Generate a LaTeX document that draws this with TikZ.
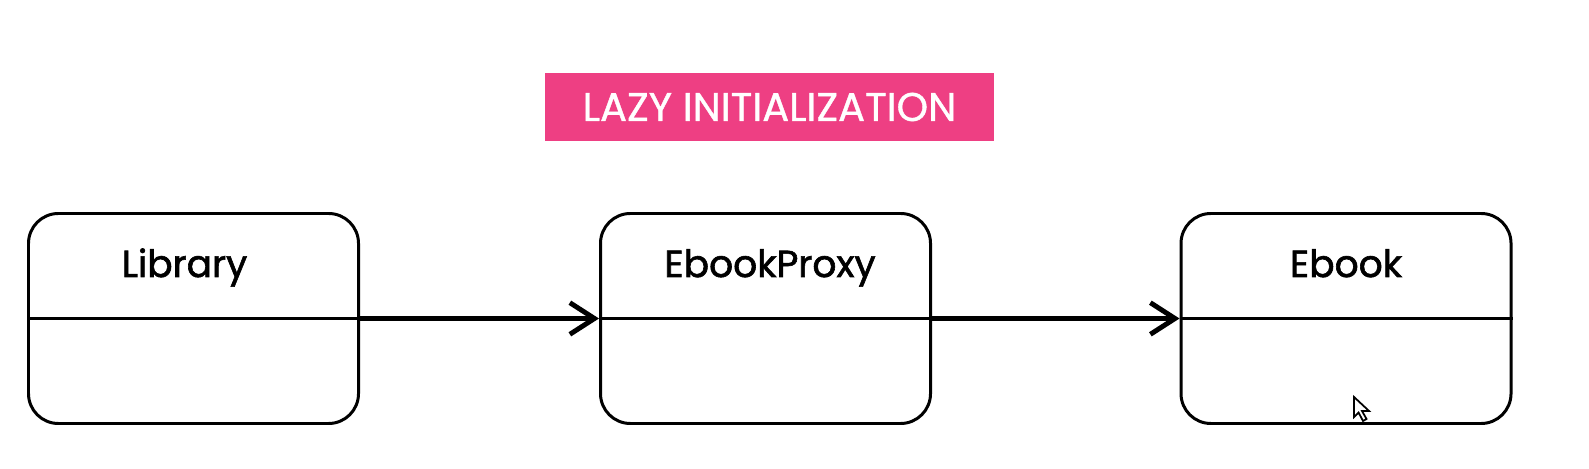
\documentclass[tikz,border=0pt]{standalone}
\usepackage{fontspec}
\setmainfont{Poppins}
\newfontfamily\namefont{Poppins}[FakeBold=1.6]
\newfontfamily\titlefont{Poppins}[FakeBold=1.0]
\usetikzlibrary{arrows.meta}
\definecolor{lazypink}{HTML}{EE3F83}
\tikzset{
 classbox/.style={draw,line width=0.85pt,rounded corners=8.5pt,minimum width=3.30cm,minimum height=2.10cm},
 classname/.style={anchor=base,font=\namefont\fontsize{10.7}{13}\selectfont},
 assoc/.style={line width=1.4pt,-{Straight Barb[length=7pt,width=9pt]}}
}

\begin{document}
\begin{tikzpicture}

 \useasboundingbox (0,0) rectangle (15.89,4.68);
 \node[fill=lazypink,minimum width=4.49cm,minimum height=0.68cm,inner sep=0pt,text=white,font=\titlefont\fontsize{11.4}{14}\selectfont] (title) at (7.695,3.61) {LAZY INITIALIZATION};

 \node[classbox] (lib) at (1.935,1.495) {};
 \node[classbox] (proxy) at (7.655,1.495) {};
 \node[classbox] (ebook) at (13.46,1.495) {};

 \draw[line width=0.85pt] (lib.west) -- (lib.east); % divider
 \draw[line width=0.85pt] (proxy.west) -- (proxy.east);
 \draw[line width=0.85pt] (ebook.west) -- (ebook.east);

 \node[classname] (libname) at (1.845,1.91) {Library};
 \node[classname] (proxyname) at (7.70,1.91) {EbookProxy};
 \node[classname] (ebookname) at (13.46,1.91) {Ebook};

 \draw[assoc] (lib.east) -- (proxy.west);
 \draw[assoc] (proxy.east) -- (ebook.west);

 % mouse pointer
 \draw[line width=0.5pt,fill=white] (13.54,0.71) -- ++(0,-0.2) -- ++(0.045,0.045) -- ++(0.045,-0.085) -- ++(0.035,0.02) -- ++(-0.045,0.08) -- ++(0.07,0) -- cycle;

\end{tikzpicture}
\end{document}
